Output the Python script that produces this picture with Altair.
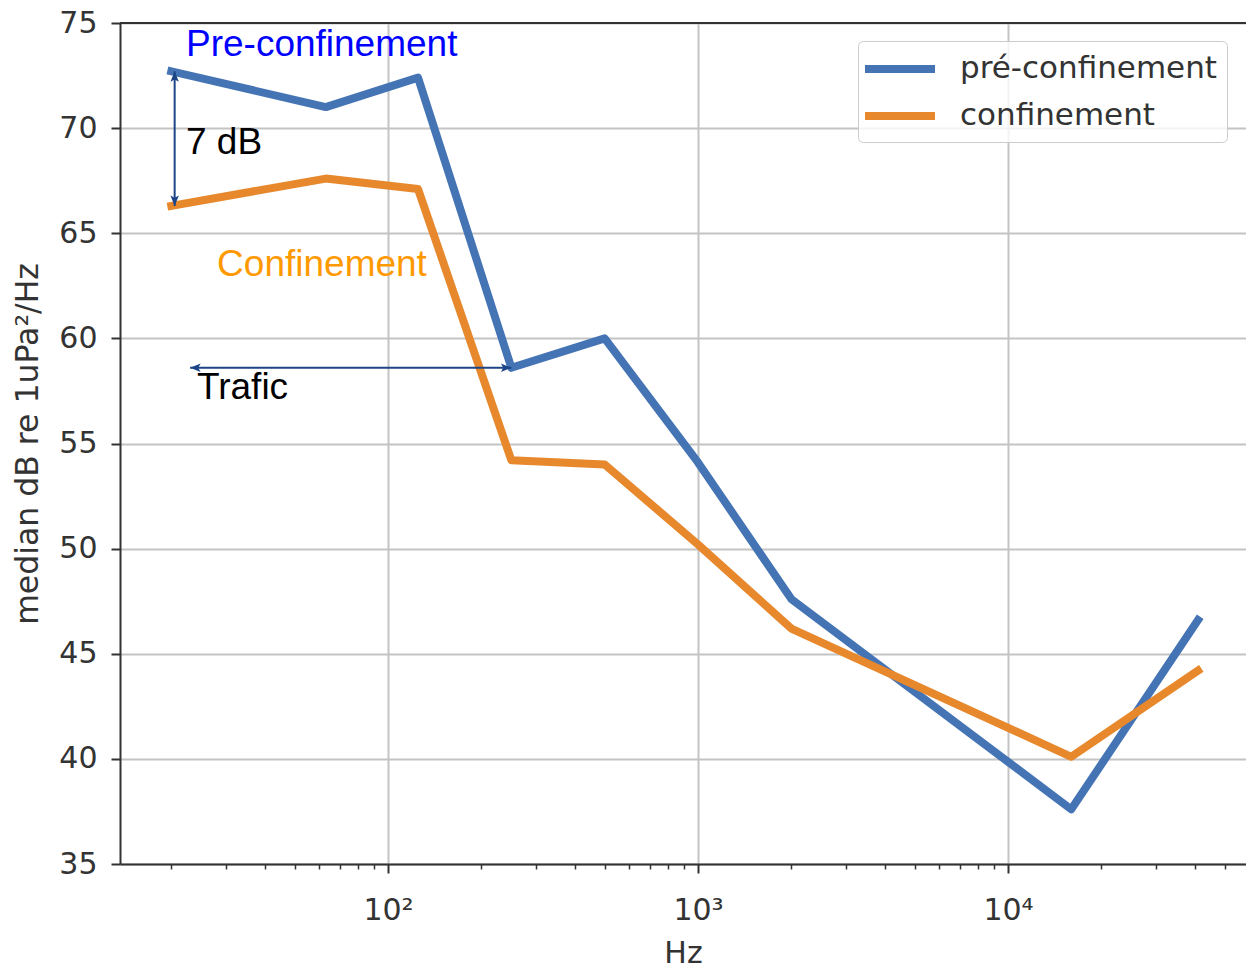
import altair as alt
import pandas as pd

# Median spectrum per frequency band (Hz -> dB re 1uPa²/Hz)
freq_hz = [20, 63, 125, 250, 500, 1000, 2000, 16000, 41000]
pre_confinement_db = [72.7, 71.0, 72.4, 58.6, 60.0, 54.1, 47.6, 37.6, 46.6]
confinement_db = [66.3, 67.6, 67.1, 54.2, 54.0, 50.2, 46.2, 40.1, 44.2]

series_names = ["pré-confinement", "confinement"]
series_colors = ["#4574b4", "#e8882c"]

# Axis ranges and ticks
x_limits = [13.66, 58580]
y_limits = [35, 75]
y_ticks = [35, 40, 45, 50, 55, 60, 65, 70, 75]
x_major = [100, 1000, 10000]
x_minor = [20, 30, 40, 50, 60, 70, 80, 90,
           200, 300, 400, 500, 600, 700, 800, 900,
           2000, 3000, 4000, 5000, 6000, 7000, 8000, 9000,
           20000, 30000, 40000, 50000]

# Text annotations
note_labels = ["Pre-confinement", "7 dB", "Confinement", "Trafic"]
note_freq = [22.3, 22.3, 28.1, 24.2]
note_db = [73.95, 69.3, 63.5, 57.65]
note_colors = ["#0000ff", "#000000", "#ff9900", "#000000"]

# Double-headed arrows: level gap at the lowest band, and the traffic band
gap_arrow_freq = 20.5
traffic_arrow_freq = [23, 250]
arrow_color = "#1c4587"

PLOT_W, PLOT_H = 1126, 841
FONT = "DejaVu Sans"
INK = "#333333"
GRID = "#c4c4c4"

lines_df = pd.DataFrame({
    "freq": freq_hz * 2,
    "db": pre_confinement_db + confinement_db,
    "series": [series_names[0]] * len(freq_hz) + [series_names[1]] * len(freq_hz),
})

notes_df = pd.DataFrame({
    "label": note_labels, "freq": note_freq, "db": note_db, "color": note_colors,
})

segments_df = pd.DataFrame({
    "f1": [gap_arrow_freq, traffic_arrow_freq[0]],
    "d1": [pre_confinement_db[0], pre_confinement_db[3]],
    "f2": [gap_arrow_freq, traffic_arrow_freq[1]],
    "d2": [confinement_db[0], pre_confinement_db[3]],
})

HEAD_UP = "M0,0L-0.6,1.5L0,1.15L0.6,1.5Z"
HEAD_DOWN = "M0,0L-0.6,-1.5L0,-1.15L0.6,-1.5Z"
HEAD_LEFT = "M0,0L1.5,-0.6L1.15,0L1.5,0.6Z"
HEAD_RIGHT = "M0,0L-1.5,-0.6L-1.15,0L-1.5,0.6Z"

heads_df = pd.DataFrame({
    "freq": [gap_arrow_freq, gap_arrow_freq, traffic_arrow_freq[0], traffic_arrow_freq[1]],
    "db": [pre_confinement_db[0], confinement_db[0], pre_confinement_db[3], pre_confinement_db[3]],
    "path": [HEAD_UP, HEAD_DOWN, HEAD_LEFT, HEAD_RIGHT],
})

is_decade = "datum.value == 100 || datum.value == 1000 || datum.value == 10000"

x_scale = alt.Scale(type="log", domain=x_limits, nice=False)
y_scale = alt.Scale(domain=y_limits, nice=False, zero=False)

x_axis = alt.Axis(
    values=x_major + x_minor,
    labelExpr="datum.value == 100 ? '10²' : datum.value == 1000 ? '10³' : datum.value == 10000 ? '10⁴' : ''",
    title="Hz",
    grid=True,
    gridColor=GRID,
    gridWidth=2,
    gridOpacity=alt.condition(is_decade, alt.value(1), alt.value(0)),
    tickSize=alt.condition(is_decade, alt.value(9), alt.value(5)),
    tickWidth=alt.condition(is_decade, alt.value(2), alt.value(1.5)),
    tickColor=INK,
    domainColor=INK,
    domainWidth=2,
    labelFont=FONT,
    labelFontSize=30,
    labelColor=INK,
    labelPadding=22,
    labelOverlap=False,
    labelFlush=False,
    titleFont=FONT,
    titleFontSize=30,
    titleFontWeight="normal",
    titleColor=INK,
    titlePadding=13,
)

y_axis = alt.Axis(
    values=y_ticks,
    title="median dB re 1uPa²/Hz",
    grid=True,
    gridColor=GRID,
    gridWidth=2,
    tickSize=9,
    tickWidth=2,
    tickColor=INK,
    domainColor=INK,
    domainWidth=2,
    labelFont=FONT,
    labelFontSize=30,
    labelColor=INK,
    labelPadding=14,
    titleFont=FONT,
    titleFontSize=31.5,
    titleFontWeight="normal",
    titleColor=INK,
    titlePadding=14,
)

legend = alt.Legend(
    title=None,
    orient="none",
    legendX=738,
    legendY=18,
    symbolType="M-1.5,0H3.5",
    symbolSize=784,
    symbolStrokeWidth=8,
    labelFont=FONT,
    labelFontSize=31,
    labelColor=INK,
    labelOffset=56,
    labelLimit=400,
    rowPadding=13,
    padding=10,
    fillColor="rgba(255,255,255,0.8)",
    strokeColor="#cccccc",
    cornerRadius=5,
)

lines = alt.Chart(lines_df).mark_line(
    strokeWidth=8, strokeCap="square", strokeJoin="round"
).encode(
    x=alt.X("freq:Q", scale=x_scale, axis=x_axis),
    y=alt.Y("db:Q", scale=y_scale, axis=y_axis),
    color=alt.Color("series:N",
                    scale=alt.Scale(domain=series_names, range=series_colors),
                    legend=legend),
)

# top frame line
top_spine = alt.Chart(pd.DataFrame({"k": [0]})).mark_rule(
    color=INK, strokeWidth=2
).encode(
    y=alt.datum(y_limits[1]),
    x=alt.value(0),
    x2=alt.value(PLOT_W),
)

arrow_shafts = alt.Chart(segments_df).mark_rule(
    color=arrow_color, strokeWidth=2
).encode(
    x="f1:Q", y="d1:Q", x2="f2:Q", y2="d2:Q",
)

arrow_heads = alt.Chart(heads_df).mark_point(
    filled=True, color=arrow_color, opacity=1, size=196, strokeWidth=0
).encode(
    x="freq:Q",
    y="db:Q",
    shape=alt.Shape("path:N", scale=None),
)

notes = alt.Chart(notes_df).mark_text(
    align="left", baseline="middle", font="Liberation Sans", fontSize=37
).encode(
    x="freq:Q",
    y="db:Q",
    text="label:N",
    color=alt.Color("color:N", scale=None),
)

chart = alt.layer(lines, top_spine, arrow_shafts, arrow_heads, notes).properties(
    width=PLOT_W,
    height=PLOT_H,
    autosize=alt.AutoSizeParams(type="none"),
    padding={"left": 120, "top": 23, "right": 0, "bottom": 105},
    background="white",
).configure_view(stroke=None)

chart.save("out.html", embed_options={"renderer": "svg", "actions": False})
